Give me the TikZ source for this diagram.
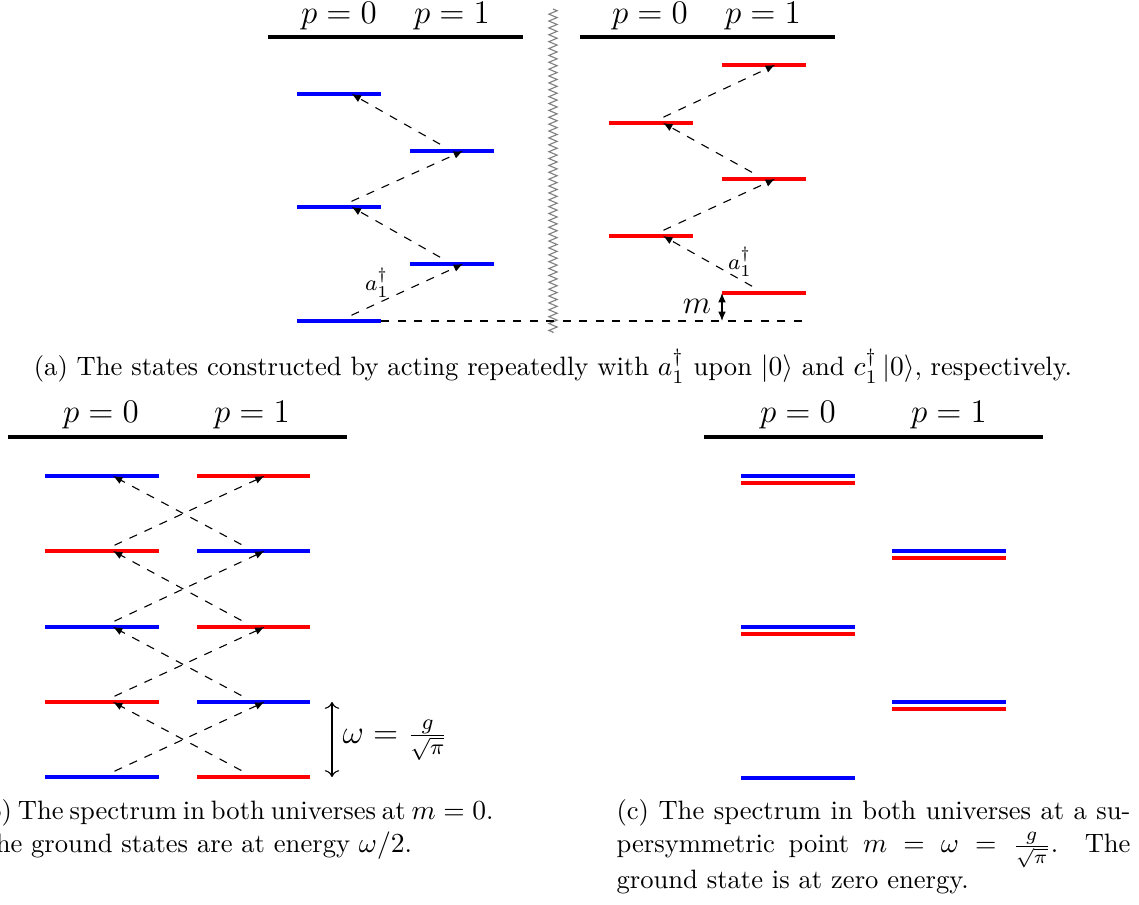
\documentclass[tikz,border=0pt]{standalone}
\usetikzlibrary{decorations.pathmorphing,arrows.meta}
\begin{document}
\begin{tikzpicture}[x=0.3636pt,y=-0.3636pt,
  bar/.style={line width=1.6pt},
  lev/.style={minimum width=30.55pt,minimum height=1.5pt,inner sep=0pt,outer sep=0pt},
  levw/.style={minimum width=41.45pt,minimum height=1.5pt,inner sep=0pt,outer sep=0pt},
  bl/.style={fill=blue},
  rd/.style={fill=red},
  tip/.style={-{Latex[length=3.4pt,width=2.8pt]}},
  jump/.style={dashed,tip,shorten <=5pt},
  plab/.style={font=\fontsize{11.7}{14}\selectfont,anchor=base,inner sep=0pt},
  oplab/.style={font=\fontsize{8.5}{10}\selectfont,inner sep=0pt},
  captxt/.style={font=\fontsize{9.67}{11.6}\selectfont,inner sep=0pt,anchor=base west}]
\useasboundingbox (0,0) rectangle (1139,905);
\clip (0,0) rectangle (1139,905);

% ---------- (a) left universe ----------
\draw[bar] (268,37) -- (523,37);
\node[plab] (pa0) at (339,23) {$p=0$};
\node[plab] (pa1) at (452,23) {$p=1$};
\node[lev,bl] (aL0) at (339,321) {};
\node[lev,bl] (aR1) at (452,264) {};
\node[lev,bl] (aL2) at (339,207) {};
\node[lev,bl] (aR3) at (452,151) {};
\node[lev,bl] (aL4) at (339,94) {};
\draw[jump] (aL0.center) -- ([xshift=4pt]aR1.center);
\draw[jump] (aR1.center) -- ([xshift=4.6pt]aL2.center);
\draw[jump] (aL2.center) -- ([xshift=4pt]aR3.center);
\draw[jump] (aR3.center) -- ([xshift=4.6pt]aL4.center);
\node[oplab] (opa) at (377,283) {$a_1^\dagger$};

% zigzag separator
\coordinate (zt) at (553,9);
\coordinate (zb) at (553,333);
\draw[gray,decorate,decoration={zigzag,amplitude=1.5pt,segment length=2.5pt}] (zt) -- (zb);

% ---------- (a) right universe ----------
\draw[bar] (580,37) -- (835,37);
\node[plab] (pb0) at (650,23) {$p=0$};
\node[plab] (pb1) at (763,23) {$p=1$};
\node[lev,rd] (bR0) at (764,293) {};
\node[lev,rd] (bL1) at (651,236) {};
\node[lev,rd] (bR2) at (764,179) {};
\node[lev,rd] (bL3) at (651,123) {};
\node[lev,rd] (bR4) at (764,65) {};
\draw[jump] (bR0.center) -- ([xshift=4.4pt]bL1.center);
\draw[jump] (bL1.center) -- ([xshift=4pt]bR2.center);
\draw[jump] (bR2.center) -- ([xshift=4.4pt]bL3.center);
\draw[jump] (bL3.center) -- ([xshift=4pt]bR4.center);
\node[oplab] (opb) at (740,262) {$a_1^\dagger$};
\draw[dashed] (aL0.east) -- (aL0.east -| bR0.east);
\draw[{Latex[length=3.4pt,width=2.8pt]}-{Latex[length=3.4pt,width=2.8pt]}] (bR0.west) -- (bR0.west |- aL0.center);
\node[plab] (mlab) at (697,313) {$m$};

\node[captxt,anchor=base] (capa) at (553,376) {(a) The states constructed by acting repeatedly with $a_1^\dagger$ upon $|0\rangle$ and $c_1^\dagger\,|0\rangle$, respectively.};

% ---------- (b) ----------
\draw[bar] (8,437) -- (347,437);
\node[plab] (pc0) at (101,422) {$p=0$};
\node[plab] (pc1) at (252,422) {$p=1$};
\node[levw,bl] (cL0) at (102,777) {};
\node[levw,rd] (cL1) at (102,702) {};
\node[levw,bl] (cL2) at (102,627) {};
\node[levw,rd] (cL3) at (102,551) {};
\node[levw,bl] (cL4) at (102,476) {};
\node[levw,rd] (cR0) at (253.5,777) {};
\node[levw,bl] (cR1) at (253.5,702) {};
\node[levw,rd] (cR2) at (253.5,627) {};
\node[levw,bl] (cR3) at (253.5,551) {};
\node[levw,rd] (cR4) at (253.5,476) {};
\foreach \i/\j in {0/1,1/2,2/3,3/4}{
  \draw[jump] (cL\i.center) -- ([xshift=4pt]cR\j.center);
  \draw[jump] (cR\i.center) -- ([xshift=4pt]cL\j.center);
}
\coordinate (wt) at (332,702);
\coordinate (wb) at (332,777);
\draw[<->] (wt) -- (wb);
\node[plab,anchor=west] (wlab) at (342,740) {$\omega=\frac{g}{\sqrt{\pi}}$};

\node[captxt] (capb1) at (-24,819) {\makebox[186.2pt][s]{(b) The spectrum in both universes at $m=0$.}};
\node[captxt] (capb2) at (-24,853) {The ground states are at energy $\omega/2$.};

% ---------- (c) ----------
\draw[bar] (704,437) -- (1043,437);
\node[plab] (pd0) at (798,422) {$p=0$};
\node[plab] (pd1) at (949,422) {$p=1$};
\node[levw,bl] (dL0) at (798,778) {};
\node[levw,bl] (dL2b) at (798,627) {};
\node[levw,rd] (dL2r) at (798,634) {};
\node[levw,bl] (dL4b) at (798,476) {};
\node[levw,rd] (dL4r) at (798,483) {};
\node[levw,bl] (dR1b) at (948.5,702) {};
\node[levw,rd] (dR1r) at (948.5,709) {};
\node[levw,bl] (dR3b) at (948.5,551) {};
\node[levw,rd] (dR3r) at (948.5,558) {};

\node[captxt] (capc1) at (616,819) {\makebox[186.9pt][s]{(c) The spectrum in both universes at a su-}};
\node[captxt] (capc2) at (616,853) {\makebox[186.9pt][s]{persymmetric point $m=\omega=\frac{g}{\sqrt{\pi}}$. The}};
\node[captxt] (capc3) at (616,888) {ground state is at zero energy.};
\end{tikzpicture}
\end{document}
